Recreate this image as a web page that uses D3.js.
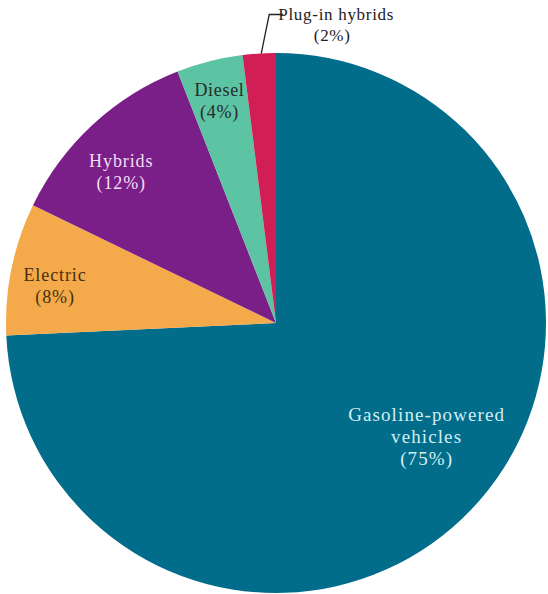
<!DOCTYPE html>
<html>
<head>
<meta charset="utf-8">
<script src="https://cdn.jsdelivr.net/npm/d3@7"></script>
<style>
  body { margin: 0; background: #fff; }
  text { font-family: "Liberation Serif", "Times New Roman", serif; font-size: 17px; letter-spacing: 0.7px; }
</style>
</head>
<body>
<div id="pie-chart"></div>
<script>
// Data
const categories = ["Gasoline-powered vehicles", "Electric", "Hybrids", "Diesel", "Plug-in hybrids"];
const shares = [75, 8, 12, 4, 2];
const labelLines = [["Gasoline-powered", "vehicles", "(75%)"], ["Electric", "(8%)"], ["Hybrids", "(12%)"], ["Diesel", "(4%)"], ["Plug-in hybrids", "(2%)"]];

const colors = ["#016d8b", "#f4aa4b", "#7a1f88", "#5cc3a3", "#d11f55"];
const textColors = ["#d2eef0", "#45300f", "#f2dcf2", "#2a2a2a", "#222222"];
const fontSizes = [19, 18, 18, 18, 17];
const letterSpacing = [1.1, 0.9, 0.9, 0.7, 0.7];
// label placement: distance from centre (share of radius) and angle nudge (degrees)
const labelRadius = [0.70, 0.83, 0.80, 0.85, 0];
const labelNudge = [-6.5, -2, -3, 0, 0];

const width = 548, height = 594;
const cx = 276, cy = 323, radius = 270;

const svg = d3.select("#pie-chart").append("svg")
    .attr("width", width)
    .attr("height", height);

const g = svg.append("g")
    .attr("transform", "translate(" + cx + "," + cy + ")");

const data = categories.map((c, i) => ({name: c, value: shares[i], i: i}));

const pie = d3.pie()
    .value(d => d.value)
    .sort(null);

const arc = d3.arc()
    .innerRadius(0)
    .outerRadius(radius);

const arcs = pie(data);

// Slices
g.selectAll(".slice")
    .data(arcs)
    .enter().append("path")
    .attr("d", arc)
    .style("fill", d => colors[d.data.i]);

// Labels inside the slices
arcs.forEach(function (d) {
    const i = d.data.i;
    if (i === 4) return;
    const r = radius * labelRadius[i];
    const a = (d.startAngle + d.endAngle) / 2 + labelNudge[i] * Math.PI / 180;
    const x = Math.sin(a) * r, y = -Math.cos(a) * r;
    const lines = labelLines[i];
    const t = g.append("text")
        .attr("text-anchor", "middle")
        .style("font-size", fontSizes[i] + "px")
        .style("letter-spacing", letterSpacing[i] + "px")
        .style("fill", textColors[i]);
    lines.forEach(function (line, k) {
        t.append("tspan")
            .attr("x", x)
            .attr("y", y + (k - (lines.length - 1) / 2) * 22 + 6)
            .text(line);
    });
});

// Plug-in hybrids label with leader line
const small = arcs[4];
const mid = (small.startAngle + small.endAngle) / 2;
const p0 = [Math.sin(mid) * radius + 2, -Math.cos(mid) * radius];
const p1 = [p0[0] + 8, p0[1] - 39];
const p2 = [p1[0] + 14, p1[1]];
g.append("polyline")
    .attr("points", [p0, p1, p2].map(p => p.join(",")).join(" "))
    .style("fill", "none")
    .style("stroke", "#222")
    .style("stroke-width", 1.3);

const pt = g.append("text")
    .attr("text-anchor", "middle")
    .style("font-size", fontSizes[4] + "px")
    .style("letter-spacing", letterSpacing[4] + "px")
    .style("fill", textColors[4]);
labelLines[4].forEach(function (line, k) {
    pt.append("tspan")
        .attr("x", p2[0] + 53 - k * 4)
        .attr("y", p2[1] + 5 + k * 21)
        .text(line);
});
</script>
</body>
</html>
